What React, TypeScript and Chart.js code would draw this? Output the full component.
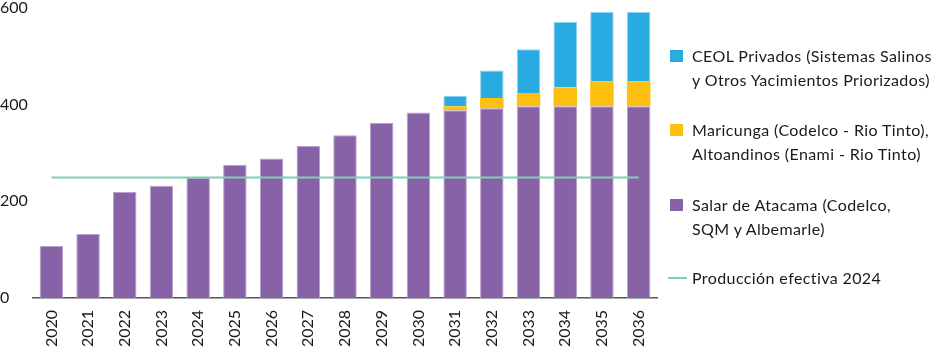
import React, { useEffect, useRef } from "react";
import { Chart, registerables } from "chart.js";

Chart.register(...registerables);

const years = ["2020","2021","2022","2023","2024","2025","2026","2027","2028","2029","2030","2031","2032","2033","2034","2035","2036"];
const salarAtacama = [107, 132, 219, 232, 249, 275, 288, 314, 336, 362, 383, 388, 392, 396, 396, 396, 396];
const maricunga = [0, 0, 0, 0, 0, 0, 0, 0, 0, 0, 0, 8, 21, 26, 39, 52, 52];
const ceolPrivados = [0, 0, 0, 0, 0, 0, 0, 0, 0, 0, 0, 22, 57, 92, 135, 143, 143];
const produccion2024 = years.map(() => 249);
const yTicks = [0, 200, 400, 600];

const PURPLE = "#8862a6";
const YELLOW = "#fdc010";
const BLUE = "#29abe2";
const MINT = "#7fcfb6";
const FONT = "Lato, 'Open Sans', sans-serif";

const legendItems = [
  { color: BLUE, lines: ["CEOL Privados (Sistemas Salinos", "y Otros Yacimientos Priorizados)"], kind: "box", top: 44 },
  { color: YELLOW, lines: ["Maricunga (Codelco - Rio Tinto),", "Altoandinos (Enami - Rio Tinto)"], kind: "box", top: 118 },
  { color: PURPLE, lines: ["Salar de Atacama (Codelco,", "SQM y Albemarle)"], kind: "box", top: 193 },
  { color: MINT, lines: ["Producción efectiva 2024"], kind: "line", top: 266 },
];

export default function App() {
  const ref = useRef<HTMLCanvasElement>(null);
  useEffect(() => {
    if (!ref.current) return;
    const barCommon = { stack: "s", order: 1, barPercentage: 0.64, categoryPercentage: 1, borderWidth: 1, borderSkipped: "bottom" as const };
    const chart = new Chart(ref.current, {
      type: "bar",
      data: {
        labels: years,
        datasets: [
          { type: "line", label: "Producción efectiva 2024", data: produccion2024, borderColor: MINT, borderWidth: 2, pointRadius: 0, stack: "line", order: 0, fill: false } as any,
          { label: "Salar de Atacama", data: salarAtacama, backgroundColor: PURPLE, borderColor: "#b9a2cc", ...barCommon },
          { label: "Maricunga", data: maricunga, backgroundColor: YELLOW, borderColor: "#fdc010", ...barCommon, borderWidth: 0 },
          { label: "CEOL Privados", data: ceolPrivados, backgroundColor: BLUE, borderColor: "#8fd3f0", ...barCommon },
        ],
      },
      options: {
        animation: false,
        responsive: false,
        maintainAspectRatio: false,
        layout: { padding: { top: 0, right: 278, bottom: 0, left: 0 } },
        plugins: { legend: { display: false }, tooltip: { enabled: false } },
        scales: {
          x: {
            stacked: true,
            grid: { display: false },
            border: { display: true, color: "#555555", width: 1.5 },
            ticks: { color: "#1a1a1a", font: { family: FONT, size: 16 }, minRotation: 90, maxRotation: 90, padding: 4 },
          },
          y: {
            stacked: true,
            min: 0,
            max: 600,
            afterBuildTicks: (axis: any) => { axis.ticks = yTicks.map((v) => ({ value: v })); },
            afterFit: (axis: any) => { axis.width = 33; },
            grid: { display: false },
            border: { display: false },
            ticks: { color: "#1a1a1a", font: { family: FONT, size: 16 }, crossAlign: "far", padding: 6 },
          },
        },
      },
    });
    return () => chart.destroy();
  }, []);

  return (
    <div style={{ position: "fixed", left: 0, top: 0, width: 935, height: 351, background: "#fff", overflow: "hidden" }}>
      <canvas ref={ref} width={935} height={359} style={{ position: "absolute", left: 0, top: -8, width: 935, height: 359 }} />
      {legendItems.map((it, i) => (
        <div key={i} style={{ position: "absolute", left: 668, top: it.top, fontFamily: FONT, fontSize: 16, letterSpacing: "0.4px", lineHeight: "24px", color: "#1a1a1a", whiteSpace: "nowrap" }}>
          {it.kind === "box" ? (
            <div style={{ position: "absolute", left: 2, top: 6, width: 13, height: 12, background: it.color }} />
          ) : (
            <div style={{ position: "absolute", left: 0, top: 11, width: 19, height: 2, background: it.color }} />
          )}
          <div style={{ marginLeft: 24 }}>
            {it.lines.map((l, j) => (<div key={j}>{l}</div>))}
          </div>
        </div>
      ))}
    </div>
  );
}
